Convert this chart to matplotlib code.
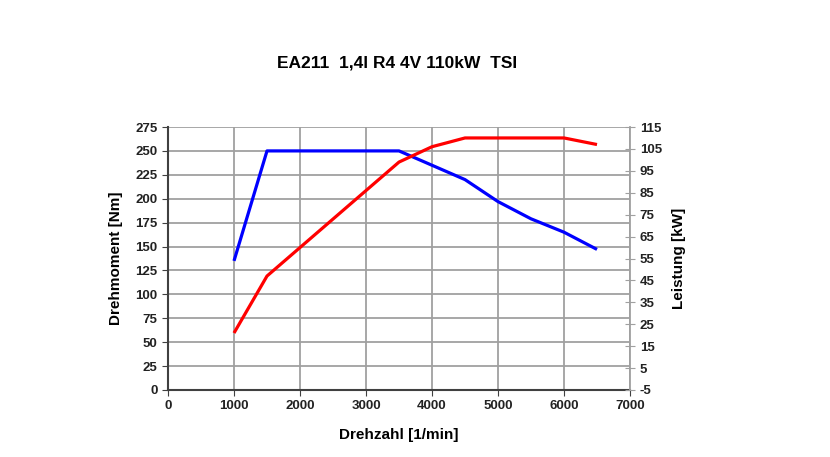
import matplotlib
matplotlib.use("Agg")
import matplotlib.pyplot as plt

plt.rcParams['font.family'] = ['Liberation Sans', 'DejaVu Sans']
plt.rcParams['axes.unicode_minus'] = False

# data
rpm = [1000, 1500, 2000, 2500, 3000, 3500, 4000, 4500, 5000, 5500, 6000, 6500]
torque_nm = [135, 250, 250, 250, 250, 250, 235, 220, 197, 179, 165, 147]
power_kw = [21, 47, 60, 73, 86, 99, 106, 110, 110, 110, 110, 107]

x_ticks = list(range(0, 7001, 1000))
torque_ticks = list(range(0, 276, 25))
power_ticks = list(range(-5, 116, 10))

fig = plt.figure(figsize=(8.3, 4.57), dpi=100)
ax = fig.add_axes([168 / 830, 67 / 457, 462 / 830, 263 / 457])
ax2 = ax.twinx()

ax.plot(rpm, torque_nm, color='#0000ff', lw=2.3, solid_capstyle='butt', zorder=3)
ax2.plot(rpm, power_kw, color='#ff0000', lw=2.3, solid_capstyle='butt', zorder=3)

ax.set_xlim(0, 7000)
ax.set_ylim(0, 275)
ax2.set_ylim(-5, 115)
ax.set_xticks(x_ticks)
ax.set_yticks(torque_ticks)
ax2.set_yticks(power_ticks)

ax.grid(True, color='#a0a0a0', lw=1.3)
ax.set_axisbelow(True)

for s in ['top', 'right']:
    ax.spines[s].set_visible(False)
ax2.spines['top'].set_visible(False)
ax2.spines['left'].set_visible(False)
ax2.spines['bottom'].set_visible(False)
ax2.spines['right'].set_color('#a0a0a0')
ax2.spines['right'].set_linewidth(1.3)
for s in ['left', 'bottom']:
    ax.spines[s].set_color('#404040')
    ax.spines[s].set_linewidth(1.5)

ax.tick_params(axis='both', direction='out', length=4, color='#404040', labelsize=9.5)
ax2.tick_params(axis='y', direction='inout', length=7, color='#a0a0a0', labelsize=9.5)
for lbl in ax.get_xticklabels() + ax.get_yticklabels() + ax2.get_yticklabels():
    lbl.set_fontweight('bold')
    lbl.set_color('#222222')

ax.set_xlabel('Drehzahl [1/min]', fontsize=11, fontweight='bold', labelpad=11)
ax.set_ylabel('Drehmoment [Nm]', fontsize=11, fontweight='bold', labelpad=9)
ax2.set_ylabel('Leistung [kW]', fontsize=11, fontweight='bold', labelpad=7)

fig.text(397 / 830, 1 - 63 / 457, 'EA211  1,4l R4 4V 110kW  TSI', ha='center', va='center',
         fontsize=12.5, fontweight='bold')

fig.savefig('out.png', dpi=100)
